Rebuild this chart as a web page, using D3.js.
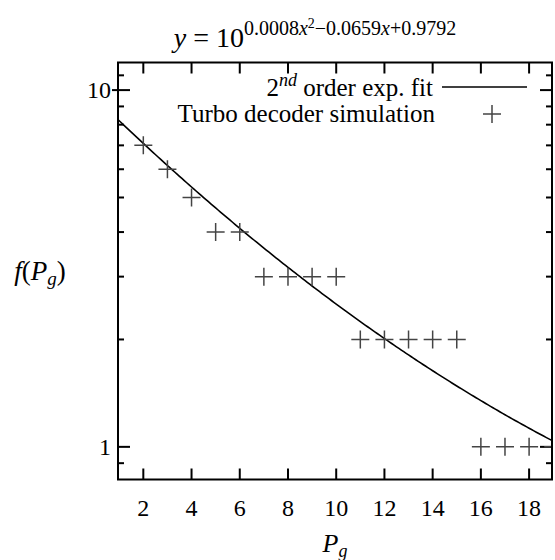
<!DOCTYPE html>
<html>
<head>
<meta charset="utf-8">
<script src="https://cdn.jsdelivr.net/npm/d3@7"></script>
<style>
  body { margin: 0; background: #fff; }
  text { font-family: "Liberation Serif", "Times New Roman", serif; fill: #000; }
</style>
</head>
<body>
<svg id="viz" width="555" height="560"></svg>
<script>
// simulation results (P_g vs f(P_g))
var pgValues = [2, 3, 4, 5, 6, 7, 8, 9, 10, 11, 12, 13, 14, 15, 16, 17, 18, 19];
var fValues  = [7, 6, 5, 4, 4, 3, 3, 3, 3, 2, 2, 2, 2, 2, 1, 1, 1, 1];

// coefficients of the 2nd order exp. fit: y = 10^(a x^2 + b x + c)
var fitCoeffs = [0.0008, -0.0659, 0.9792];

// tick labels
var xTickValues = [2, 4, 6, 8, 10, 12, 14, 16, 18];
var yMajorTicks = [1, 10];
var yMinorTicks = [0.9, 2, 3, 4, 5, 6, 7, 8, 9, 11];

var legendLabels = ["order exp. fit", "Turbo decoder simulation"];

// plot box
var plotLeft = 118, plotRight = 552, plotTop = 62.5, plotBottom = 479.5;

var svg = d3.select("#viz");

var x = d3.scaleLinear().domain([0.95, 18.95]).range([plotLeft, plotRight]);
var y = d3.scaleLog().domain([0.81, 11.95]).range([plotBottom, plotTop]);

svg.append("clipPath").attr("id", "plotclip")
  .append("rect")
  .attr("x", plotLeft).attr("y", plotTop)
  .attr("width", plotRight - plotLeft).attr("height", plotBottom - plotTop);

// ticks: bottom/top
var tickG = svg.append("g").attr("stroke", "#000").attr("stroke-width", 2);
xTickValues.forEach(function(v) {
  tickG.append("line").attr("x1", x(v)).attr("x2", x(v)).attr("y1", plotBottom).attr("y2", plotBottom - 11);
  tickG.append("line").attr("x1", x(v)).attr("x2", x(v)).attr("y1", plotTop).attr("y2", plotTop + 11);
});
// ticks: left/right, majors a bit longer
yMajorTicks.forEach(function(v) {
  tickG.append("line").attr("x1", plotLeft).attr("x2", plotLeft + 12).attr("y1", y(v)).attr("y2", y(v));
  tickG.append("line").attr("x1", plotRight).attr("x2", plotRight - 12).attr("y1", y(v)).attr("y2", y(v));
});
// the 10 tick on the left crosses the frame
tickG.append("line").attr("x1", plotLeft - 6).attr("x2", plotLeft).attr("y1", y(10)).attr("y2", y(10));
yMinorTicks.forEach(function(v) {
  tickG.append("line").attr("x1", plotLeft).attr("x2", plotLeft + 6).attr("y1", y(v)).attr("y2", y(v));
  tickG.append("line").attr("x1", plotRight).attr("x2", plotRight - 6).attr("y1", y(v)).attr("y2", y(v));
});

// tick labels
svg.append("g").selectAll("text")
  .data(xTickValues).enter().append("text")
  .attr("x", function(d) { return x(d); })
  .attr("y", 516)
  .attr("text-anchor", "middle")
  .style("font-size", "24px")
  .text(function(d) { return d; });

svg.append("g").selectAll("text")
  .data(yMajorTicks).enter().append("text")
  .attr("x", 111)
  .attr("y", function(d) { return y(d) + 8; })
  .attr("text-anchor", "end")
  .style("font-size", "24px")
  .text(function(d) { return d; });

// fit curve sampled from the fitted formula
var fitX = d3.range(0.9, 19.05, 0.1);
var fitLine = d3.line()
  .x(function(d) { return x(d); })
  .y(function(d) { return y(Math.pow(10, fitCoeffs[0] * d * d + fitCoeffs[1] * d + fitCoeffs[2])); });

var plot = svg.append("g").attr("clip-path", "url(#plotclip)");
plot.append("path")
  .datum(fitX)
  .attr("d", fitLine)
  .attr("fill", "none")
  .attr("stroke", "#000")
  .attr("stroke-width", 1.6);

// plus markers
var ps = 9;
function plus(g, cx, cy) {
  g.append("path")
    .attr("d", "M" + (cx - ps) + "," + cy + "H" + (cx + ps) + "M" + cx + "," + (cy - ps) + "V" + (cy + ps))
    .attr("stroke", "#444")
    .attr("stroke-width", 1.5)
    .attr("fill", "none");
}
pgValues.forEach(function(v, i) { plus(plot, x(v), y(fValues[i])); });

// frame
svg.append("rect")
  .attr("x", plotLeft).attr("y", plotTop)
  .attr("width", plotRight - plotLeft).attr("height", plotBottom - plotTop)
  .attr("fill", "none").attr("stroke", "#000").attr("stroke-width", 2);

// legend
var leg1 = svg.append("text").attr("x", 433).attr("y", 96).attr("text-anchor", "end").style("font-size", "25px");
leg1.append("tspan").text("2");
leg1.append("tspan").attr("dy", -10).style("font-size", "18px").style("font-style", "italic").text("nd");
leg1.append("tspan").attr("dy", 10).text(" " + legendLabels[0]);
svg.append("line")
  .attr("x1", 442).attr("x2", 527).attr("y1", 87).attr("y2", 87)
  .attr("stroke", "#000").attr("stroke-width", 1.6);

svg.append("text").attr("x", 435).attr("y", 122).attr("text-anchor", "end")
  .style("font-size", "25px").text(legendLabels[1]);
plus(svg, 492, 114);

// axis titles
var xt = svg.append("text").attr("x", 335).attr("y", 552).attr("text-anchor", "middle").style("font-size", "26px");
xt.append("tspan").style("font-style", "italic").text("P");
xt.append("tspan").attr("dy", 5).style("font-size", "18px").style("font-style", "italic").text("g");

var yt = svg.append("text").attr("x", 40).attr("y", 280).attr("text-anchor", "middle").style("font-size", "27px");
yt.append("tspan").style("font-style", "italic").text("f");
yt.append("tspan").text("(");
yt.append("tspan").style("font-style", "italic").text("P");
yt.append("tspan").attr("dy", 5).style("font-size", "19px").style("font-style", "italic").text("g");
yt.append("tspan").attr("dy", -5).text(")");

// title formula
var tt = svg.append("text").attr("x", 315).attr("y", 47).attr("text-anchor", "middle").style("font-size", "28px");
tt.append("tspan").style("font-style", "italic").text("y");
tt.append("tspan").text(" = 10");
tt.append("tspan").attr("dy", -12).style("font-size", "20px").text("0.0008");
tt.append("tspan").style("font-size", "20px").style("font-style", "italic").text("x");
tt.append("tspan").attr("dy", -7).style("font-size", "14px").text("2");
tt.append("tspan").attr("dy", 7).style("font-size", "20px").text("\u22120.0659");
tt.append("tspan").style("font-size", "20px").style("font-style", "italic").text("x");
tt.append("tspan").style("font-size", "20px").text("+0.9792");
</script>
</body>
</html>
